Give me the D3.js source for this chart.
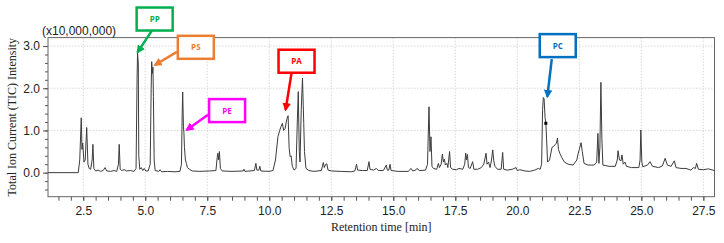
<!DOCTYPE html>
<html><head><meta charset="utf-8">
<script src="https://cdn.jsdelivr.net/npm/d3@7"></script>
<style>
body{margin:0;background:#fff;}
svg{display:block;}
</style></head>
<body>
<svg id="chart" width="724" height="243"></svg>
<script>
// ---- data ----
const retentionTimes = [1.08,2.30,2.36,2.42,2.45,2.48,2.53,2.58,2.64,2.69,2.74,2.80,2.86,2.89,2.93,3.00,3.10,3.20,3.30,3.38,3.45,3.60,3.75,3.85,3.92,3.95,3.99,4.05,4.15,4.25,4.40,4.55,4.63,4.67,4.69,4.72,4.74,4.78,4.84,4.90,4.96,5.02,5.12,5.20,5.24,5.26,5.29,5.31,5.33,5.36,5.40,5.55,5.60,5.66,5.90,6.20,6.40,6.46,6.49,6.51,6.54,6.56,6.58,6.62,6.66,6.70,6.78,6.90,7.20,7.60,7.85,7.90,7.93,7.96,7.99,8.03,8.10,8.50,8.95,8.98,9.02,9.40,9.46,9.50,9.58,9.62,9.66,10.00,10.15,10.25,10.35,10.42,10.48,10.53,10.58,10.64,10.70,10.76,10.80,10.84,10.88,10.93,11.00,11.08,11.13,11.17,11.21,11.24,11.29,11.34,11.37,11.39,11.42,11.48,11.60,11.80,12.10,12.18,12.22,12.28,12.32,12.37,12.50,12.90,13.30,13.45,13.52,13.56,13.75,13.95,14.02,14.06,14.20,14.32,14.40,14.60,14.72,14.76,14.82,14.87,14.91,15.20,15.60,15.72,15.78,15.90,15.95,16.05,16.30,16.38,16.44,16.48,16.52,16.56,16.62,16.75,16.82,16.86,16.93,16.98,17.02,17.06,17.10,17.16,17.20,17.27,17.31,17.40,17.55,17.65,17.80,17.88,17.92,17.95,17.99,18.03,18.10,18.20,18.25,18.40,18.55,18.65,18.74,18.78,18.84,18.90,18.96,19.01,19.05,19.10,19.20,19.35,19.41,19.45,19.60,19.80,19.95,20.00,20.10,20.30,20.50,20.70,20.85,20.92,20.98,21.02,21.05,21.08,21.12,21.15,21.18,21.22,21.30,21.40,21.46,21.52,21.58,21.62,21.66,21.72,21.80,21.90,22.05,22.25,22.40,22.44,22.50,22.57,22.62,22.69,22.85,23.10,23.20,23.25,23.29,23.33,23.37,23.41,23.45,23.70,23.95,24.03,24.06,24.12,24.18,24.22,24.27,24.34,24.40,24.60,24.90,24.95,24.98,25.02,25.06,25.25,25.35,25.45,25.70,25.85,25.96,26.05,26.20,26.33,26.40,26.60,26.80,27.00,27.10,27.18,27.23,27.30,27.50,27.70,27.95];
const ticIntensity = [0.00,0.00,0.30,1.30,0.55,0.70,0.25,0.30,1.07,0.20,0.10,0.08,0.30,0.67,0.10,0.04,0.06,0.03,0.05,0.12,0.04,0.03,0.05,0.03,0.20,0.67,0.08,0.05,0.07,0.04,0.05,0.03,0.10,2.20,2.84,2.60,0.40,0.08,0.12,0.05,0.10,0.04,0.04,0.20,2.00,2.63,2.35,2.50,1.80,0.30,0.05,0.03,0.07,0.02,0.03,0.02,0.03,0.20,1.40,1.91,1.10,0.95,0.60,0.30,0.22,0.12,0.08,0.04,0.03,0.04,0.05,0.35,0.46,0.30,0.50,0.10,0.04,0.03,0.04,0.08,0.03,0.05,0.22,0.06,0.06,0.15,0.04,0.03,0.05,0.30,0.85,1.00,1.10,1.17,1.00,1.05,1.25,1.35,0.60,0.38,0.40,0.15,0.06,0.10,1.20,1.92,0.50,0.25,1.50,2.24,1.60,1.17,0.50,0.10,0.05,0.03,0.05,0.24,0.12,0.20,0.21,0.06,0.04,0.03,0.02,0.04,0.20,0.06,0.05,0.05,0.26,0.08,0.06,0.10,0.05,0.05,0.18,0.06,0.06,0.20,0.05,0.03,0.03,0.10,0.04,0.06,0.10,0.05,0.06,0.20,1.56,0.50,0.85,0.15,0.10,0.08,0.22,0.12,0.20,0.44,0.25,0.32,0.18,0.22,0.12,0.50,0.12,0.08,0.07,0.10,0.08,0.20,0.46,0.30,0.43,0.12,0.10,0.26,0.08,0.08,0.12,0.20,0.46,0.20,0.25,0.12,0.30,0.54,0.28,0.15,0.08,0.08,0.48,0.08,0.06,0.08,0.12,0.05,0.07,0.04,0.03,0.06,0.10,0.08,0.20,1.50,1.78,1.75,1.30,1.17,0.80,0.25,0.30,0.60,0.62,0.66,0.70,0.82,0.55,0.45,0.35,0.25,0.20,0.18,0.30,0.42,0.55,0.71,0.50,0.22,0.18,0.18,0.25,0.93,0.22,0.60,2.14,0.80,0.18,0.15,0.15,0.30,0.52,0.30,0.28,0.42,0.20,0.25,0.15,0.12,0.12,0.30,1.01,0.25,0.14,0.18,0.26,0.15,0.12,0.16,0.34,0.18,0.15,0.28,0.12,0.10,0.10,0.06,0.12,0.10,0.22,0.08,0.07,0.09,0.05];
const xTickLabels = [2.5,5.0,7.5,10.0,12.5,15.0,17.5,20.0,22.5,25.0,27.5];
const yTickLabels = [0.0,1.0,2.0,3.0];
const markerTime = [21.15];
const markerValue = [1.17];
// annotations: label, box centre (time, value), arrow start and end (time, value)
const annLabels = ["PP","PS","PE","PA","PC"];
const annColors = ["#00B050","#ED7D31","#FF00FF","#FF0000","#0070C0"];
const annBoxT = [5.38,7.04,8.30,11.10,21.63];
const annBoxV = [3.64,2.97,1.47,2.64,3.01];
const annFromT = [5.26,6.28,7.53,10.90,21.39];
const annFromV = [3.36,2.86,1.37,2.37,2.69];
const annToT = [4.69,5.39,6.67,10.66,21.21];
const annToV = [2.85,2.55,1.01,1.49,1.80];

// ---- layout ----
const svg = d3.select("#chart");
const L = 48, R = 714.5, T = 37.6, B = 196.7;
const x = d3.scaleLinear().domain([1.08, 27.95]).range([L, R]);
const y = d3.scaleLinear().domain([-0.57, 3.2]).range([B, T]);

// grid
const grid = svg.append("g").attr("stroke","#cfcfcf").attr("stroke-width",0.8).attr("stroke-dasharray","1.5,1.5");
grid.selectAll("line.v").data(xTickLabels).join("line")
  .attr("x1",d=>x(d)).attr("x2",d=>x(d)).attr("y1",T).attr("y2",B);
grid.selectAll("line.h").data([1,2,3]).join("line")
  .attr("x1",L).attr("x2",R).attr("y1",d=>y(d)).attr("y2",d=>y(d));

// x axis
const minorX = d3.range(1.5, 28, 0.5);
const xAxis = svg.append("g").attr("transform",`translate(0,${B})`)
  .call(d3.axisBottom(x).tickValues(minorX).tickSize(4).tickFormat(""));
xAxis.select(".domain").remove();
xAxis.selectAll(".tick line").attr("stroke","#555");
const xLab = svg.append("g").attr("transform",`translate(0,${B})`)
  .call(d3.axisBottom(x).tickValues(xTickLabels).tickSize(4).tickPadding(6).tickFormat(d3.format(".1f")));
xLab.select(".domain").remove();
xLab.selectAll(".tick line").attr("stroke","#555");
xLab.selectAll("text").attr("font-family","'Liberation Sans', Arial, sans-serif").attr("font-size",12).attr("fill","#222");

// y axis
const minorY = d3.range(-0.4, 3.01, 0.2).map(v=>+v.toFixed(1));
const yAxis = svg.append("g").attr("transform",`translate(${L},0)`)
  .call(d3.axisLeft(y).tickValues(minorY).tickSize(3).tickFormat(""));
yAxis.select(".domain").remove();
yAxis.selectAll(".tick line").attr("stroke","#555");
const yLab = svg.append("g").attr("transform",`translate(${L},0)`)
  .call(d3.axisLeft(y).tickValues(yTickLabels).tickSize(5).tickPadding(3).tickFormat(d3.format(".1f")));
yLab.select(".domain").remove();
yLab.selectAll(".tick line").attr("stroke","#555");
yLab.selectAll("text").attr("font-family","'Liberation Sans', Arial, sans-serif").attr("font-size",12).attr("fill","#222");

// frame
svg.append("rect").attr("x",L).attr("y",T).attr("width",R-L).attr("height",B-T)
  .attr("fill","none").attr("stroke","#666").attr("stroke-width",1);

// trace
const pts = retentionTimes.map((t,i)=>[t, ticIntensity[i]]);
svg.append("path").datum(pts)
  .attr("d", d3.line().x(d=>x(d[0])).y(d=>y(d[1])))
  .attr("fill","none").attr("stroke","#3c3c3c").attr("stroke-width",1).attr("stroke-linejoin","round");

// marker
svg.selectAll("rect.mk").data(markerTime).join("rect")
  .attr("x",(d)=>x(d)-1.5).attr("y",(d,i)=>y(markerValue[i])-1.5).attr("width",3).attr("height",3).attr("fill","#000");

// titles
svg.append("text").attr("x",42).attr("y",35).text("(x10,000,000)")
  .attr("font-family","'Liberation Sans', Arial, sans-serif").attr("font-size",12).attr("fill","#222");
svg.append("text").attr("transform",`translate(16,${(T+B)/2}) rotate(-90)`).attr("text-anchor","middle")
  .text("Total Ion Current (TIC) Intensity")
  .attr("font-family","'Liberation Serif', 'Times New Roman', serif").attr("font-size",12).attr("fill","#222");
svg.append("text").attr("x",(L+R)/2+0).attr("y",231).attr("text-anchor","middle")
  .text("Retention time [min]")
  .attr("font-family","'Liberation Serif', 'Times New Roman', serif").attr("font-size",12).attr("fill","#222");

// annotations
const defs = svg.append("defs");
annColors.forEach((c,i)=>{
  defs.append("marker").attr("id","ah"+i).attr("viewBox","0 0 10 10").attr("refX",8).attr("refY",5)
    .attr("markerWidth",3.4).attr("markerHeight",3.4).attr("orient","auto").attr("markerUnits","strokeWidth")
    .append("path").attr("d","M0,0 L10,5 L0,10 z").attr("fill",c);
});
const ann = svg.append("g");
annLabels.forEach((lab,i)=>{
  const c = annColors[i];
  ann.append("line").attr("x1",x(annFromT[i])).attr("y1",y(annFromV[i]))
    .attr("x2",x(annToT[i])).attr("y2",y(annToV[i]))
    .attr("stroke",c).attr("stroke-width",2.5).attr("marker-end",`url(#ah${i})`);
  const bw = 36, bh = 23;
  ann.append("rect").attr("x",x(annBoxT[i])-bw/2).attr("y",y(annBoxV[i])-bh/2).attr("width",bw).attr("height",bh)
    .attr("fill","#fff").attr("stroke",c).attr("stroke-width",2.5);
  ann.append("text").attr("x",x(annBoxT[i])).attr("y",y(annBoxV[i])+3).attr("text-anchor","middle")
    .text(lab).attr("font-family","'Open Sans', sans-serif").attr("font-size",8).attr("font-weight","bold").attr("fill",c);
});
</script>
</body></html>
